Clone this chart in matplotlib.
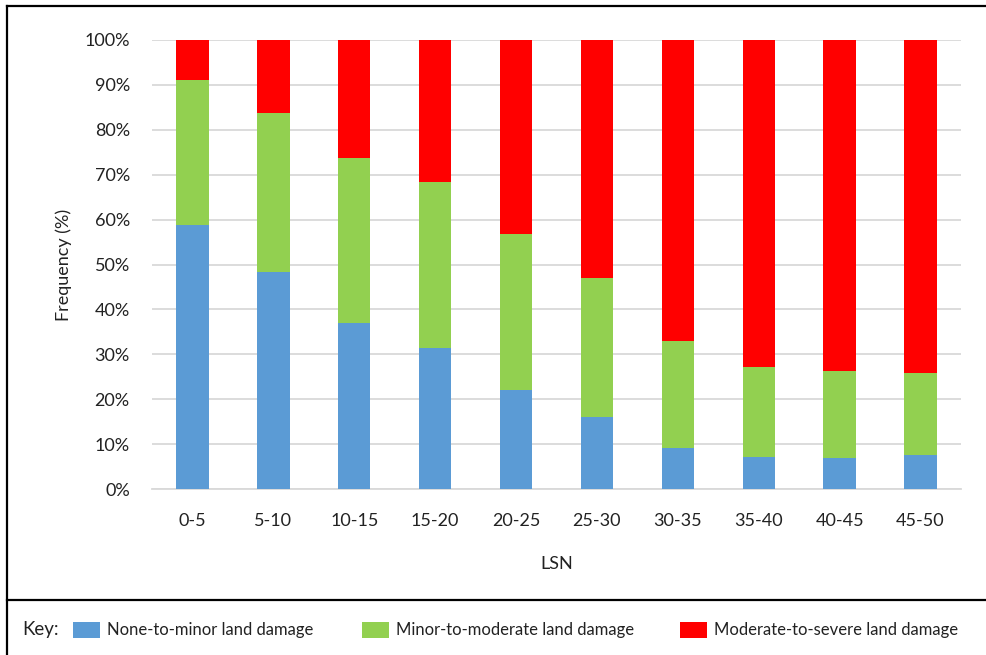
import matplotlib
matplotlib.use("Agg")
import matplotlib.pyplot as plt
from matplotlib.lines import Line2D
from matplotlib.patches import Rectangle
import numpy as np

categories = ["0-5", "5-10", "10-15", "15-20", "20-25", "25-30", "30-35", "35-40", "40-45", "45-50"]
none_to_minor = [58.9, 48.3, 36.9, 31.5, 22.1, 16.0, 9.1, 7.1, 6.9, 7.6]
minor_to_moderate = [32.3, 35.4, 36.8, 36.9, 34.8, 31.1, 23.9, 20.1, 19.4, 18.2]
moderate_to_severe = [8.8, 16.3, 26.3, 31.6, 43.1, 52.9, 67.0, 72.8, 73.7, 74.2]
series_names = ["None-to-minor land damage", "Minor-to-moderate land damage", "Moderate-to-severe land damage"]
colors = ["#5B9BD5", "#92D050", "#FF0000"]
yticks = [0, 10, 20, 30, 40, 50, 60, 70, 80, 90, 100]

plt.rcParams['font.family'] = ['Lato', 'DejaVu Sans']

W, H = 986, 655
fig = plt.figure(figsize=(W / 100, H / 100), dpi=100)
ax = fig.add_axes([152 / W, 1 - 489 / H, (961 - 152) / W, (489 - 40) / H])

x = np.arange(len(categories))
bottom = np.zeros(len(categories))
for vals, c in zip([none_to_minor, minor_to_moderate, moderate_to_severe], colors):
    ax.bar(x, vals, width=0.4, bottom=bottom, color=c, zorder=3)
    bottom += np.array(vals)

ax.set_xlim(-0.5, len(categories) - 0.5)
ax.set_ylim(0, 100)
ax.set_yticks(yticks)
ax.set_yticklabels([f"{v}%" for v in yticks])
ax.set_xticks(x)
ax.set_xticklabels(categories)
ax.tick_params(axis='both', length=0, labelsize=13, colors="#222222")
ax.tick_params(axis='y', pad=16)
ax.tick_params(axis='x', pad=17)
ax.yaxis.grid(True, color="#d9d9d9", linewidth=1.3, zorder=0)
for s in ["top", "right", "left"]:
    ax.spines[s].set_visible(False)
ax.spines["bottom"].set_color("#d9d9d9")
ax.spines["bottom"].set_linewidth(1.3)
ax.set_xlabel("LSN", fontsize=13, labelpad=20, color="#222222")
ax.set_ylabel("Frequency (%)", fontsize=13, labelpad=9, color="#222222")

# Frame lines
def fx(px):
    return px / W
def fy(py):
    return 1 - py / H
fig.add_artist(Line2D([fx(7), fx(986)], [fy(6), fy(6)], color="black", linewidth=1.6))
fig.add_artist(Line2D([fx(7), fx(7)], [fy(6), fy(655)], color="black", linewidth=1.6))
fig.add_artist(Line2D([fx(7), fx(986)], [fy(600), fy(600)], color="black", linewidth=1.6))

# Key
ky = 630
fig.text(fx(22), fy(ky), "Key:", fontsize=13.5, va="center", ha="left", color="#222222")
sq_x = [73, 362, 680]
for sx, name, c in zip(sq_x, series_names, colors):
    fig.add_artist(Rectangle((fx(sx), fy(638)), 27 / W, 16 / H, facecolor=c, edgecolor="none"))
    fig.text(fx(sx + 34), fy(ky), name, fontsize=12, va="center", ha="left", color="#222222")

fig.savefig("out.png", dpi=100)
